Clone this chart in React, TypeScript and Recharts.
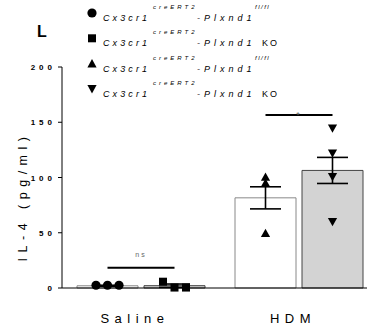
import React from 'react';
import { ComposedChart, Bar, Scatter, XAxis, YAxis, ErrorBar, Legend, Label } from 'recharts';

const FONT = "'Liberation Sans', Arial, sans-serif";

// values
const groups = ['Saline', 'HDM'];
const wtMean = [2, 81.6];
const wtErr = [0.5, 10];
const koMean = [2.1, 106.4];
const koErr = [1.5, 11.8];
const wtPoints = [[2.5, 2.5, 2.5], [100.5, 95, 49.5]];
const koPoints = [[5.7, 0.4, 0.4], [144.5, 122, 100.7, 60]];
const sigLevel = [18.4, 156.6];
const sigText = ['ns', '*'];
const yTicks = [0, 50, 100, 150, 200];
const wtShapes = ['circle', 'up'];
const koShapes = ['square', 'down'];
const legendShapes = ['circle', 'square', 'up', 'down'];
const legendSuffix = ['fl/fl', 'KO', 'fl/fl', 'KO'];

const BAR_SIZE = 61;
const BAR_GAP = 6;
const SHIFT = (BAR_SIZE + BAR_GAP) / 2;
const JITTER = 11.5;

const chartData = groups.map((g, i) => ({
  group: g,
  wt: wtMean[i],
  wtErr: wtErr[i],
  ko: koMean[i],
  koErr: koErr[i],
}));

const buildPoints = (sets: number[][], side: number, shapes: string[]) =>
  sets.flatMap((vals, g) => {
    // overlapping points get spread sideways like Prism does
    const spread = Math.max(...vals) - Math.min(...vals) < 8;
    return vals.map((v, i) => ({
      group: groups[g],
      v,
      side,
      kind: shapes[g],
      slot: spread ? i - (vals.length - 1) / 2 : 0,
    }));
  });

const wtData = buildPoints(wtPoints, -1, wtShapes);
const koData = buildPoints(koPoints, 1, koShapes);
const sigData = groups.map((g, i) => ({ group: g, v: sigLevel[i], label: sigText[i] }));

const Marker = ({ kind, x, y }: { kind: string; x: number; y: number }) => {
  if (kind === 'circle') return <circle cx={x} cy={y} r={4.6} fill="#000" />;
  if (kind === 'square') return <rect x={x - 4} y={y - 4} width={8} height={8} fill="#000" />;
  if (kind === 'up')
    return <polygon points={`${x},${y - 4.5} ${x + 4.6},${y + 3.8} ${x - 4.6},${y + 3.8}`} fill="#000" />;
  return <polygon points={`${x},${y + 4.5} ${x + 4.6},${y - 3.8} ${x - 4.6},${y - 3.8}`} fill="#000" />;
};

const PointShape = (props: any) => {
  const { cx, cy, payload } = props;
  return <Marker kind={payload.kind} x={cx + payload.side * SHIFT + payload.slot * JITTER} y={cy} />;
};

const SigMark = (props: any) => {
  const { cx, cy, payload } = props;
  const star = payload.label === '*';
  return (
    <g>
      <line x1={cx - SHIFT} x2={cx + SHIFT} y1={cy} y2={cy} stroke="#000" strokeWidth={2} />
      <text
        x={cx}
        y={star ? cy + 3 : cy - 11}
        textAnchor="middle"
        fontSize={star ? 9 : 7}
        letterSpacing={2}
        fill="#666"
        fontFamily={FONT}
      >
        {payload.label}
      </text>
    </g>
  );
};

const YTick = ({ x, y, payload }: any) => (
  <text x={x} y={y} dy={3} textAnchor="end" fontSize={8} fontWeight="bold" letterSpacing={4} fill="#000" fontFamily={FONT}>
    {payload.value}
  </text>
);

const XTick = ({ x, y, payload }: any) => (
  <text x={x - 6} y={y} dy={27} textAnchor="middle" fontSize={13} letterSpacing={5.5} fill="#000" fontFamily={FONT}>
    {payload.value}
  </text>
);

const YLabel = (props: any) => {
  const vb = props.viewBox;
  const lx = vb.x + 27;
  const ly = vb.y + vb.height / 2 + 19;
  return (
    <text
      x={lx}
      y={ly}
      transform={`rotate(-90 ${lx} ${ly})`}
      textAnchor="middle"
      fontSize={12.5}
      letterSpacing={5.5}
      fill="#000"
      fontFamily={FONT}
    >
      IL-4 (pg/ml)
    </text>
  );
};

const LegendBox = () => (
  <svg width={300} height={104} style={{ display: 'block' }}>
    <text x={37} y={37} fontSize={16} fontWeight="bold" fill="#000" fontFamily={FONT}>
      L
    </text>
    {legendShapes.map((s, i) => {
      const y = 13 + i * 25.3;
      const ko = legendSuffix[i] === 'KO';
      return (
        <g key={s}>
          <Marker kind={s} x={92} y={y} />
          <text y={y + 8} fontSize={9} fill="#000" fontFamily={FONT}>
            <tspan x={103} fontStyle="italic" letterSpacing={3.1}>
              Cx3cr1
            </tspan>
            <tspan x={153} dy={-12} fontSize={6} fontStyle="italic" letterSpacing={3}>
              creERT2
            </tspan>
            <tspan x={197} dy={12} fontStyle="italic" letterSpacing={4}>
              -Plxnd1
            </tspan>
            {ko ? (
              <tspan x={262} letterSpacing={2}>
                KO
              </tspan>
            ) : (
              <tspan x={255} dy={-12} fontSize={6} fontStyle="italic" letterSpacing={1.5}>
                fl/fl
              </tspan>
            )}
          </text>
        </g>
      );
    })}
  </svg>
);

export default function App() {
  return (
    <div style={{ position: 'absolute', left: 0, top: 0, width: 367, height: 330, overflow: 'hidden', background: '#fff' }}>
      <ComposedChart
        width={378}
        height={330}
        data={chartData}
        margin={{ top: 67, right: 0, bottom: 0, left: 0 }}
        barSize={BAR_SIZE}
        barGap={BAR_GAP}
      >
        <XAxis
          dataKey="group"
          allowDuplicatedCategory={false}
          height={42}
          tickLine={false}
          tickSize={6}
          tickMargin={2}
          axisLine={{ stroke: '#000', strokeWidth: 1 }}
          tick={<XTick />}
        />
        <YAxis
          width={62}
          domain={[0, 200]}
          ticks={yTicks}
          tickSize={4}
          tickMargin={2}
          axisLine={{ stroke: '#000', strokeWidth: 1 }}
          tickLine={{ stroke: '#000' }}
          tick={<YTick />}
        >
          <Label content={<YLabel />} />
        </YAxis>
        <Legend
          layout="horizontal"
          verticalAlign="middle"
          align="center"
          wrapperStyle={{ left: 0, top: 0, width: 300, height: 104 }}
          content={() => <LegendBox />}
        />
        <Bar dataKey="wt" fill="#fff" stroke="#888" strokeWidth={1} isAnimationActive={false}>
          <ErrorBar dataKey="wtErr" width={15.5} stroke="#000" strokeWidth={1.6} />
        </Bar>
        <Bar dataKey="ko" fill="#d3d3d3" stroke="#444" strokeWidth={1} isAnimationActive={false}>
          <ErrorBar dataKey="koErr" width={15.5} stroke="#000" strokeWidth={1.6} />
        </Bar>
        <Scatter data={wtData} dataKey="v" shape={PointShape} isAnimationActive={false} legendType="none" />
        <Scatter data={koData} dataKey="v" shape={PointShape} isAnimationActive={false} legendType="none" />
        <Scatter data={sigData} dataKey="v" shape={SigMark} isAnimationActive={false} legendType="none" />
      </ComposedChart>
    </div>
  );
}
